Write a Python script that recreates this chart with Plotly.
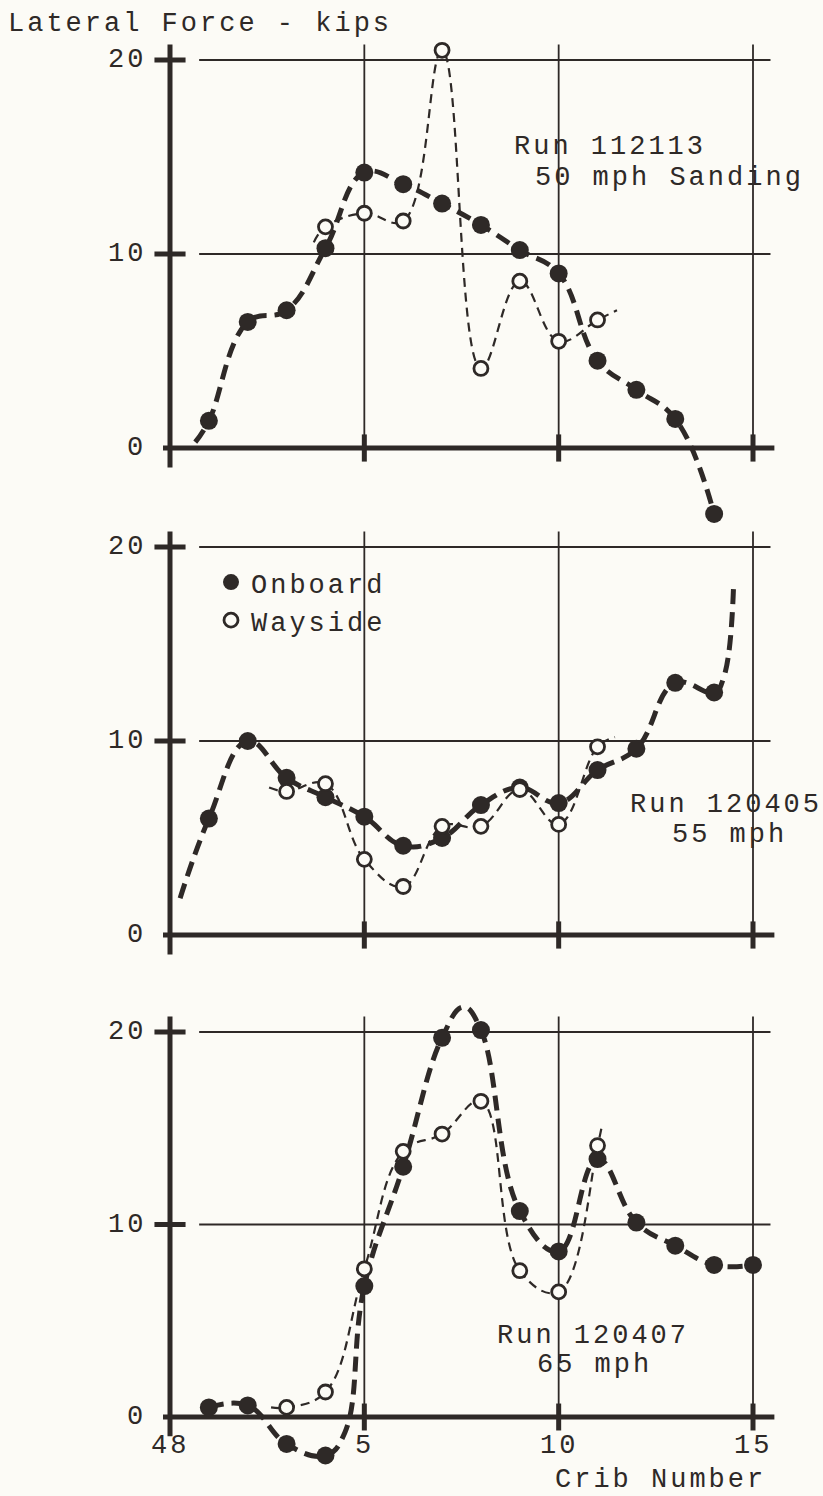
import plotly.graph_objects as go

INK = "#2e2927"
PAPER = "#fcfbf6"
FONT = "Liberation Mono"
FONT_SIZE = 27
SPACING = "3px"

W, H = 823, 1496

# x positions along the track; position 0 is crib 48
x_tick_vals = [0, 5, 10, 15]
x_tick_text = ["48", "5", "10", "15"]
y_tick_vals = [0, 10, 20]

# ---- Run 112113, 50 mph sanding ----
r1_on_crib = [1, 2, 3, 4, 5, 6, 7, 8, 9, 10, 11, 12, 13, 14]
r1_on_kips = [1.4, 6.5, 7.1, 10.3, 14.2, 13.6, 12.6, 11.5, 10.2, 9.0, 4.5, 3.0, 1.5, -3.4]
r1_way_crib = [4, 5, 6, 7, 8, 9, 10, 11]
r1_way_kips = [11.4, 12.1, 11.7, 20.5, 4.1, 8.6, 5.5, 6.6]
# extra points on the faired curves (ends and bends away from the readings)
r1_on_fair = ([0.65], [0.3])
r1_way_fair = ([3.7, 11.5], [10.6, 7.1])

# ---- Run 120405, 55 mph ----
r2_on_crib = [1, 2, 3, 4, 5, 6, 7, 8, 9, 10, 11, 12, 13, 14]
r2_on_kips = [6.0, 10.0, 8.1, 7.1, 6.1, 4.6, 5.0, 6.7, 7.6, 6.8, 8.5, 9.6, 13.0, 12.5]
r2_way_crib = [3, 4, 5, 6, 7, 8, 9, 10, 11]
r2_way_kips = [7.4, 7.8, 3.9, 2.5, 5.6, 5.6, 7.5, 5.7, 9.7]
r2_on_fair = ([0.26, 14.25, 14.5], [1.9, 13.3, 18.0])
r2_way_fair = ([2.55, 11.45], [7.6, 10.2])

# ---- Run 120407, 65 mph ----
r3_on_crib = [1, 2, 3, 4, 5, 6, 7, 8, 9, 10, 11, 12, 13, 14, 15]
r3_on_kips = [0.5, 0.6, -1.4, -2.0, 6.8, 13.0, 19.7, 20.1, 10.7, 8.6, 13.4, 10.1, 8.9, 7.9, 7.9]
r3_way_crib = [3, 4, 5, 6, 7, 8, 9, 10, 11]
r3_way_kips = [0.5, 1.3, 7.7, 13.8, 14.7, 16.4, 7.6, 6.5, 14.1]
r3_on_fair = ([4.5, 7.55], [-0.8, 21.3])
r3_way_fair = ([2.6, 11.1], [0.5, 15.0])

run_labels = [
    ("Run 112113", "50 mph Sanding"),
    ("Run 120405", "55 mph"),
    ("Run 120407", "65 mph"),
]
# label anchor (crib, kips) for each run caption: first line, second line
run_label_pos = [
    ((8.8, 15.5), (9.34, 13.9)),
    ((11.78, 6.7), (12.86, 5.15)),
    ((8.36, 4.2), (9.39, 2.7)),
]

panels = [
    (r1_on_crib, r1_on_kips, r1_way_crib, r1_way_kips, r1_on_fair, r1_way_fair),
    (r2_on_crib, r2_on_kips, r2_way_crib, r2_way_kips, r2_on_fair, r2_way_fair),
    (r3_on_crib, r3_on_kips, r3_way_crib, r3_way_kips, r3_on_fair, r3_way_fair),
]

# page geometry (pixels): where crib 0 and crib 15 fall, and each panel's frame
PX_X0, PX_X15 = 170, 753
PX_PER_X = (PX_X15 - PX_X0) / 15
PLOT_LEFT, PLOT_RIGHT = 140, 800
x_range = [(PLOT_LEFT - PX_X0) / PX_PER_X, (PLOT_RIGHT - PX_X0) / PX_PER_X]
# (pixel row of zero, pixels per kip, top row, bottom row)
panel_frames = [
    (448, 19.4, 5, 525),
    (935, 19.4, 525, 1000),
    (1417, 19.25, 1000, 1470),
]


def spaced(t):
    return f'<span style="letter-spacing:{SPACING}">{t}</span>'


def curve(xs, ys, fair):
    pts = sorted(zip(list(xs) + list(fair[0]), list(ys) + list(fair[1])))
    return [p[0] for p in pts], [p[1] for p in pts]


fig = go.Figure()
shapes = []
annotations = []
layout_axes = {}

for i, (frame, data) in enumerate(zip(panel_frames, panels), start=1):
    zero_px, ppu, top_px, bot_px = frame
    on_x, on_y, way_x, way_y, on_fair, way_fair = data
    xa = "x" if i == 1 else f"x{i}"
    ya = "y" if i == 1 else f"y{i}"
    xkey = "xaxis" if i == 1 else f"xaxis{i}"
    ykey = "yaxis" if i == 1 else f"yaxis{i}"

    layout_axes[xkey] = dict(
        domain=[PLOT_LEFT / W, PLOT_RIGHT / W], range=x_range, anchor=ya,
        visible=False, fixedrange=True,
    )
    layout_axes[ykey] = dict(
        domain=[1 - bot_px / H, 1 - top_px / H],
        range=[(zero_px - bot_px) / ppu, (zero_px - top_px) / ppu],
        anchor=xa, visible=False, fixedrange=True,
    )

    # faired curves
    wx, wy = curve(way_x, way_y, way_fair)
    fig.add_trace(go.Scatter(
        x=wx, y=wy,
        mode="lines", line=dict(color=INK, width=2.2, dash="9px,6px", shape="spline", smoothing=1.15),
        xaxis=xa, yaxis=ya, showlegend=False, hoverinfo="skip",
    ))
    ox, oy = curve(on_x, on_y, on_fair)
    fig.add_trace(go.Scatter(
        x=ox, y=oy,
        mode="lines", line=dict(color=INK, width=5, dash="15px,8px", shape="spline", smoothing=1.2),
        xaxis=xa, yaxis=ya, showlegend=False, hoverinfo="skip",
    ))
    # readings
    fig.add_trace(go.Scatter(
        x=on_x, y=on_y, mode="markers", name=spaced("Onboard"),
        marker=dict(color=INK, size=18, line=dict(width=0)),
        xaxis=xa, yaxis=ya, showlegend=(i == 1), legendgroup="on",
    ))
    fig.add_trace(go.Scatter(
        x=way_x, y=way_y, mode="markers", name=spaced("Wayside"),
        marker=dict(color=PAPER, size=14, line=dict(color=INK, width=2.8)),
        xaxis=xa, yaxis=ya, showlegend=(i == 1), legendgroup="way",
    ))

    # frame: heavy left axis and zero line, light grid
    gx_lo, gx_hi = 0.75, 15.45
    grid_top = 20.8
    shapes.append(dict(type="line", xref=xa, yref=ya, x0=0, x1=0, y0=-1.0, y1=grid_top,
                       line=dict(color=INK, width=5), layer="below"))
    shapes.append(dict(type="line", xref=xa, yref=ya, x0=-0.18, x1=15.55, y0=0, y1=0,
                       line=dict(color=INK, width=5), layer="below"))
    for v in y_tick_vals[1:]:
        shapes.append(dict(type="line", xref=xa, yref=ya, x0=gx_lo, x1=gx_hi, y0=v, y1=v,
                           line=dict(color=INK, width=1.8), layer="below"))
        shapes.append(dict(type="line", xref=xa, yref=ya, x0=-0.4, x1=0.4, y0=v, y1=v,
                           line=dict(color=INK, width=5), layer="below"))
    for v in x_tick_vals[1:]:
        shapes.append(dict(type="line", xref=xa, yref=ya, x0=v, x1=v, y0=0, y1=grid_top,
                           line=dict(color=INK, width=1.8), layer="below"))
        shapes.append(dict(type="line", xref=xa, yref=ya, x0=v, x1=v, y0=-0.7, y1=0.7,
                           line=dict(color=INK, width=5), layer="below"))

    # kips tick labels
    for v in y_tick_vals:
        annotations.append(dict(xref=xa, yref=ya, x=0, y=v, text=spaced(str(v)), showarrow=False,
                                xanchor="right", yanchor="middle", xshift=-22,
                                font=dict(family=FONT, size=FONT_SIZE, color=INK)))

    # run caption
    (l1, l2), ((ax1, ay1), (ax2, ay2)) = run_labels[i - 1], run_label_pos[i - 1]
    for t, ax, ay in ((l1, ax1, ay1), (l2, ax2, ay2)):
        annotations.append(dict(xref=xa, yref=ya, x=ax, y=ay, text=spaced(t), showarrow=False,
                                xanchor="left", yanchor="middle",
                                font=dict(family=FONT, size=FONT_SIZE, color=INK)))

# crib tick labels under the bottom panel
for v, t in zip(x_tick_vals, x_tick_text):
    annotations.append(dict(xref="x3", yref="y3", x=v, y=0, text=spaced(t), showarrow=False,
                            xanchor="center", yanchor="middle", yshift=-29,
                            font=dict(family=FONT, size=FONT_SIZE, color=INK)))

annotations.append(dict(xref="paper", yref="paper", x=660 / W, y=1 - 1480 / H,
                        text=spaced("Crib Number"), showarrow=False,
                        xanchor="center", yanchor="middle",
                        font=dict(family=FONT, size=FONT_SIZE, color=INK)))
annotations.append(dict(xref="paper", yref="paper", x=6 / W, y=1 - 24 / H,
                        text=spaced("Lateral Force - kips"), showarrow=False,
                        xanchor="left", yanchor="middle",
                        font=dict(family=FONT, size=FONT_SIZE, color=INK)))

fig.update_layout(
    width=W, height=H,
    margin=dict(l=0, r=0, t=0, b=0),
    paper_bgcolor=PAPER, plot_bgcolor=PAPER,
    shapes=shapes, annotations=annotations,
    legend=dict(x=211 / W, y=1 - 558 / H, xanchor="left", yanchor="top",
                bgcolor="rgba(0,0,0,0)", font=dict(family=FONT, size=FONT_SIZE, color=INK),
                tracegroupgap=0, itemsizing="trace"),
    showlegend=True,
    **layout_axes,
)

fig.write_html("out.html")
